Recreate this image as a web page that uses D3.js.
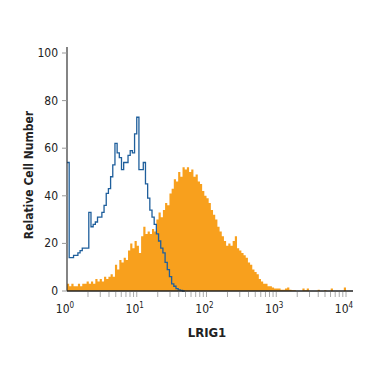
<!DOCTYPE html>
<html>
<head>
<meta charset="utf-8">
<title>LRIG1 histogram</title>
<script src="https://d3js.org/d3.v7.min.js"></script>
<style>
    body {
        margin: 0;
        background: #fff;
    }
    text {
        font-family: "Liberation Sans Narrow", "DejaVu Sans Condensed", sans-serif;
        fill: #222;
    }
</style>
</head>
<body>
<script>
    // 128 channels across four decades (32 per decade), values in % of max
    const binsPerDecade = 32;

    const stained = [3, 2, 3, 2, 2, 3, 2, 3, 3, 4, 3, 4, 3, 5, 4, 5,
        4, 6, 5, 6, 7, 6, 11, 9, 13, 12, 14, 13, 17, 20, 18, 21,
        19, 16, 23, 27, 24, 25, 24, 26, 25, 30, 33, 31, 34, 37, 36, 41,
        43, 47, 46, 50, 48, 52, 51, 52, 50, 51, 48, 49, 46, 45, 42, 40,
        39, 37, 34, 32, 30, 27, 25, 23, 21, 19, 20, 19, 21, 23, 18, 17,
        16, 15, 14, 12, 11, 9, 8, 7, 5, 4, 3, 3, 2, 2, 1.5, 1,
        1, 1, 0.5, 0.5, 1, 1.5, 0.5, 0.3, 0.3, 0, 0, 0, 1, 0.3, 1, 0,
        0, 0, 0, 0.5, 0, 0, 0.3, 0, 0, 1, 0, 0, 0, 0, 0, 1.5];

    const control = [54, 14, 14, 15, 15, 16, 17, 18, 18, 18, 33, 27, 28, 29, 31, 31,
        33, 36, 41, 43, 48, 53, 62, 58, 56, 51, 54, 54, 57, 59, 58, 66,
        73, 51, 51, 54, 45, 39, 34, 31, 28, 24, 21, 18, 16, 12, 9, 6,
        3, 2, 1, 0.5, 0.3, 0];

    const yTicks = [0, 20, 40, 60, 80, 100];
    const xDecades = [0, 1, 2, 3, 4];
    const xLabel = "LRIG1";
    const yLabel = "Relative Cell Number";

    const width = 375, height = 375;

    const svg = d3.select("body").append("svg")
        .attr("width", width)
        .attr("height", height);

    const x = d3.scaleLog().domain([1, 1e4]).range([67, 346]);
    const y = d3.scaleLinear().domain([0, 100]).range([291, 53]);

    function edge(i) { return Math.pow(10, i / binsPerDecade); }

    function stepPoints(vals) {
        const pts = vals.map(function(v, i) { return [edge(i), v]; });
        pts.push([edge(vals.length), vals[vals.length - 1]]);
        return pts;
    }

    // filled histogram
    svg.append("path")
        .datum(stepPoints(stained))
        .attr("fill", "#f8a01d")
        .attr("d", d3.area()
            .curve(d3.curveStepAfter)
            .x(function(d) { return x(d[0]); })
            .y0(y(0))
            .y1(function(d) { return y(d[1]); }));

    // control outline
    svg.append("path")
        .datum(stepPoints(control))
        .attr("fill", "none")
        .attr("stroke", "#1f5f9c")
        .attr("stroke-width", 1.3)
        .attr("d", d3.line()
            .curve(d3.curveStepAfter)
            .x(function(d) { return x(d[0]); })
            .y(function(d) { return y(d[1]); }));

    // y axis
    svg.append("line")
        .attr("x1", 67).attr("x2", 67)
        .attr("y1", 47).attr("y2", 291)
        .attr("stroke", "#333").attr("stroke-width", 1.2);

    svg.selectAll(".ytick")
        .data(yTicks)
        .join("line")
        .attr("x1", 62).attr("x2", 67)
        .attr("y1", function(d) { return y(d); })
        .attr("y2", function(d) { return y(d); })
        .attr("stroke", "#999");

    svg.selectAll(".ylab")
        .data(yTicks)
        .join("text")
        .attr("x", 58)
        .attr("y", function(d) { return y(d) + 4; })
        .attr("text-anchor", "end")
        .style("font-size", "12px")
        .text(function(d) { return d; });

    // x axis
    svg.append("line")
        .attr("x1", 67).attr("x2", 353)
        .attr("y1", 291).attr("y2", 291)
        .attr("stroke", "#222").attr("stroke-width", 1.3);

    const minor = [];
    xDecades.forEach(function(k) {
        if (k < 4) {
            for (let m = 2; m <= 9; m++) minor.push(m * Math.pow(10, k));
        }
    });
    xDecades.forEach(function(k) { if (k > 0) minor.push(Math.pow(10, k)); });

    svg.selectAll(".xtick")
        .data(minor)
        .join("line")
        .attr("x1", function(d) { return x(d); })
        .attr("x2", function(d) { return x(d); })
        .attr("y1", 292).attr("y2", 297)
        .attr("stroke", "#aaa");

    const xl = svg.selectAll(".xlab")
        .data(xDecades)
        .join("text")
        .attr("x", function(d) { return x(Math.pow(10, d)) - 2; })
        .attr("y", 313)
        .attr("text-anchor", "middle")
        .style("font-size", "12px");
    xl.append("tspan").text("10");
    xl.append("tspan")
        .attr("dy", -5)
        .style("font-size", "8px")
        .text(function(d) { return d; });

    // axis titles
    svg.append("text")
        .attr("x", 207).attr("y", 337)
        .attr("text-anchor", "middle")
        .style("font-size", "13px")
        .style("font-weight", "bold")
        .text(xLabel);

    svg.append("text")
        .attr("transform", "translate(33,175) rotate(-90)")
        .attr("text-anchor", "middle")
        .style("font-size", "12px")
        .style("font-weight", "bold")
        .text(yLabel);
</script>
</body>
</html>
